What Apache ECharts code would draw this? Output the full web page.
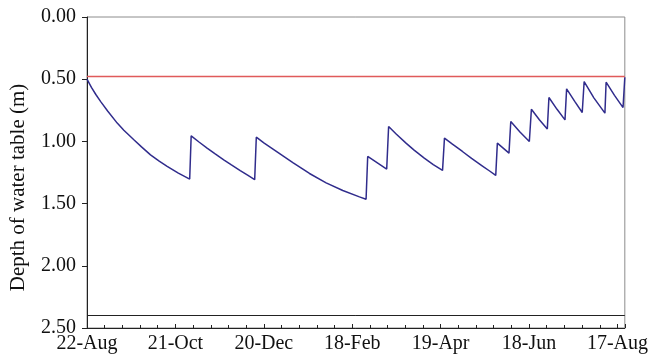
<!DOCTYPE html>
<html>
<head>
<meta charset="utf-8">
<script src="https://cdn.jsdelivr.net/npm/echarts@6/dist/echarts.min.js"></script>
<style>
  html, body { margin: 0; padding: 0; background: #fff; }
  #chart { width: 651px; height: 354px; }
</style>
</head>
<body>
<div id="chart"></div>
<script>
// days since 22-Aug, and water table depth (m)
var days = [0, 3, 6, 9.3, 14, 20.5, 25, 31.8, 37, 43.1, 49, 54.4, 62, 69.7,
  70.7, 76, 81.5, 87, 92.8, 98, 104, 109, 113.8,
  114.9, 120, 128.5, 139.7, 151, 162.3, 173.6, 184.9, 189.4,
  190.5, 203.4,
  204.7, 210, 216.5, 222, 228.9, 235, 241.3,
  242.6, 248, 254.8, 261, 268.4, 273, 277.4,
  278.5, 286.4,
  287.6, 294, 300.2,
  301.6, 307, 312.4,
  313.5, 319, 324.4,
  325.5, 331, 336.1,
  337.4, 344, 351.5,
  352.3, 358, 363.8,
  365];
var depths = [0.50, 0.566, 0.623, 0.68, 0.756, 0.853, 0.911, 0.987, 1.044, 1.108, 1.159, 1.20, 1.255, 1.303,
  0.955, 1.005, 1.054, 1.101, 1.148, 1.189, 1.235, 1.272, 1.308,
  0.966, 1.012, 1.080, 1.170, 1.258, 1.333, 1.395, 1.446, 1.465,
  1.121, 1.222,
  0.880, 0.943, 1.014, 1.070, 1.134, 1.186, 1.233,
  0.974, 1.022, 1.081, 1.137, 1.198, 1.236, 1.273,
  1.014, 1.094,
  0.840, 0.926, 1.001,
  0.741, 0.826, 0.901,
  0.647, 0.742, 0.827,
  0.578, 0.678, 0.768,
  0.519, 0.650, 0.773,
  0.524, 0.630, 0.728,
  0.484];
var xLabels = ['22-Aug', '21-Oct', '20-Dec', '18-Feb', '19-Apr', '18-Jun', '17-Aug'];
var yTicks = [0, 0.5, 1.0, 1.5, 2.0, 2.5];
var redLevel = 0.48;
var blackLevel = 2.40;

var myChart = echarts.init(document.getElementById('chart'));

var font = 'Liberation Serif, Times New Roman, serif';

var option = {
  animation: false,
  grid: {
    left: 87, right: 25, top: 17, bottom: 26,
    show: true, borderColor: '#8c8c8c', borderWidth: 1
  },
  xAxis: {
    type: 'value',
    position: 'bottom',
    min: 0,
    max: 365,
    interval: 60,
    axisLine: { onZero: false, lineStyle: { color: '#222', width: 1 } },
    axisTick: { inside: true, length: 4, lineStyle: { color: '#222' } },
    minorTick: { show: true, splitNumber: 5, length: 3, lineStyle: { color: '#222' } },
    splitLine: { show: false },
    axisLabel: {
      showMaxLabel: false,
      margin: 6,
      color: '#111',
      fontFamily: font,
      fontSize: 20,
      formatter: function (v) {
        var i = Math.round(v / 60);
        return (v % 60 === 0 && xLabels[i]) ? xLabels[i] : '';
      }
    }
  },
  yAxis: {
    type: 'value',
    inverse: true,
    min: yTicks[0],
    max: yTicks[yTicks.length - 1],
    interval: 0.5,
    name: 'Depth of water table (m)',
    nameLocation: 'middle',
    nameRotate: 90,
    nameGap: 58,
    nameTextStyle: { color: '#111', fontFamily: font, fontSize: 21, padding: [0, 30, 0, 0] },
    axisLine: { lineStyle: { color: '#222', width: 1 } },
    axisTick: { inside: false, length: 5, lineStyle: { color: '#222' } },
    splitLine: { show: false },
    axisLabel: {
      margin: 11,
      color: '#111',
      fontFamily: font,
      fontSize: 20,
      formatter: function (v) { return v.toFixed(2); }
    }
  },
  series: [{
    type: 'line',
    data: days.map(function (d, i) { return [d, depths[i]]; }),
    showSymbol: false,
    symbol: 'none',
    lineStyle: { color: '#302c8c', width: 1.5 },
    markLine: {
      silent: true,
      symbol: 'none',
      label: { show: false },
      data: [
        { yAxis: redLevel, lineStyle: { color: '#e05a5a', width: 1.3, type: 'solid' } },
        { yAxis: blackLevel, lineStyle: { color: '#222', width: 1, type: 'solid' } }
      ]
    }
  }]
};

myChart.setOption(option);
</script>
</body>
</html>
